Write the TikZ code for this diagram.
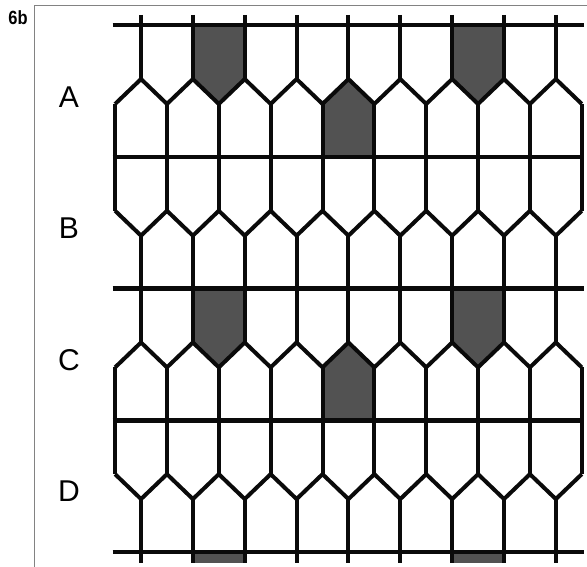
\documentclass[tikz,border=0pt]{standalone}
\usepackage{fontspec}
\setmainfont{Liberation Sans}
\newfontfamily\fignumfont[FakeStretch=0.86]{Liberation Sans}
\usepackage{xcolor}
\usepackage{tikz}
\definecolor{figline}{RGB}{10,10,10}
\definecolor{figshade}{RGB}{82,82,82}
\definecolor{figframe}{RGB}{130,130,130}
\tikzset{
  cw/.style   ={draw=figline, line width=2.2pt},
  rl/.style   ={draw=figline, line width=2.5pt},
  cf/.style   ={fill=figshade},
  frm/.style  ={draw=figframe, line width=0.5pt},
  rowlab/.style ={font=\fontsize{16.5}{18}\selectfont, inner sep=1pt},
  fignum/.style ={font=\fignumfont\bfseries\fontsize{10.5}{12}\selectfont, inner sep=1pt},
}

\begin{document}
\begin{tikzpicture}[scale=1]
  \useasboundingbox (0,0) rectangle (11.321,10.935);
  \draw[frm] (0.656,0) -- (0.656,10.839) -- (11.321,10.839);
  \node[fignum] (fig) at (0.347,10.585) {6b};
  \node[rowlab] (labA) at (1.33,9.06) {A};
  \node[rowlab] (labB) at (1.33,6.53) {B};
  \node[rowlab] (labC) at (1.33,3.99) {C};
  \node[rowlab] (labD) at (1.33,1.46) {D};
  % row A
  \begin{scope}[yshift=10.45cm]
  \fill[cf] (3.72,0) -- (4.72,0) -- (4.72,-1.04) -- (4.22,-1.52) -- (3.72,-1.04) -- cycle;
  \fill[cf] (6.22,-2.54) -- (6.22,-1.52) -- (6.72,-1.04) -- (7.22,-1.52) -- (7.22,-2.54) -- cycle;
  \fill[cf] (8.72,0) -- (9.72,0) -- (9.72,-1.04) -- (9.22,-1.52) -- (8.72,-1.04) -- cycle;
  \draw[rl] (2.17,0) -- (11.27,0);
  \draw[cw] (2.72,0.2) -- (2.72,-1.04);
  \draw[cw] (3.72,0.2) -- (3.72,-1.04);
  \draw[cw] (4.72,0.2) -- (4.72,-1.04);
  \draw[cw] (5.72,0.2) -- (5.72,-1.04);
  \draw[cw] (6.72,0.2) -- (6.72,-1.04);
  \draw[cw] (7.72,0.2) -- (7.72,-1.04);
  \draw[cw] (8.72,0.2) -- (8.72,-1.04);
  \draw[cw] (9.72,0.2) -- (9.72,-1.04);
  \draw[cw] (10.72,0.2) -- (10.72,-1.04);
  \draw[cw] (2.22,-1.52) -- (2.72,-1.04) -- (3.22,-1.52) -- (3.72,-1.04) -- (4.22,-1.52) -- (4.72,-1.04)
    -- (5.22,-1.52) -- (5.72,-1.04) -- (6.22,-1.52) -- (6.72,-1.04) -- (7.22,-1.52) -- (7.72,-1.04)
    -- (8.22,-1.52) -- (8.72,-1.04) -- (9.22,-1.52) -- (9.72,-1.04) -- (10.22,-1.52) -- (10.72,-1.04)
    -- (11.22,-1.52);
  \draw[cw] (2.22,-1.52) -- (2.22,-2.54);
  \draw[cw] (3.22,-1.52) -- (3.22,-2.54);
  \draw[cw] (4.22,-1.52) -- (4.22,-2.54);
  \draw[cw] (5.22,-1.52) -- (5.22,-2.54);
  \draw[cw] (6.22,-1.52) -- (6.22,-2.54);
  \draw[cw] (7.22,-1.52) -- (7.22,-2.54);
  \draw[cw] (8.22,-1.52) -- (8.22,-2.54);
  \draw[cw] (9.22,-1.52) -- (9.22,-2.54);
  \draw[cw] (10.22,-1.52) -- (10.22,-2.54);
  \draw[cw] (11.22,-1.52) -- (11.22,-2.54);
  \end{scope}
  % row B
  \begin{scope}[yshift=7.91cm]
  \draw[rl] (2.17,0) -- (11.27,0);
  \draw[cw] (2.22,0) -- (2.22,-1.04);
  \draw[cw] (3.22,0) -- (3.22,-1.04);
  \draw[cw] (4.22,0) -- (4.22,-1.04);
  \draw[cw] (5.22,0) -- (5.22,-1.04);
  \draw[cw] (6.22,0) -- (6.22,-1.04);
  \draw[cw] (7.22,0) -- (7.22,-1.04);
  \draw[cw] (8.22,0) -- (8.22,-1.04);
  \draw[cw] (9.22,0) -- (9.22,-1.04);
  \draw[cw] (10.22,0) -- (10.22,-1.04);
  \draw[cw] (11.22,0) -- (11.22,-1.04);
  \draw[cw] (2.22,-1.04) -- (2.72,-1.52) -- (3.22,-1.04) -- (3.72,-1.52) -- (4.22,-1.04) -- (4.72,-1.52)
    -- (5.22,-1.04) -- (5.72,-1.52) -- (6.22,-1.04) -- (6.72,-1.52) -- (7.22,-1.04) -- (7.72,-1.52)
    -- (8.22,-1.04) -- (8.72,-1.52) -- (9.22,-1.04) -- (9.72,-1.52) -- (10.22,-1.04) -- (10.72,-1.52)
    -- (11.22,-1.04);
  \draw[cw] (2.72,-1.52) -- (2.72,-2.54);
  \draw[cw] (3.72,-1.52) -- (3.72,-2.54);
  \draw[cw] (4.72,-1.52) -- (4.72,-2.54);
  \draw[cw] (5.72,-1.52) -- (5.72,-2.54);
  \draw[cw] (6.72,-1.52) -- (6.72,-2.54);
  \draw[cw] (7.72,-1.52) -- (7.72,-2.54);
  \draw[cw] (8.72,-1.52) -- (8.72,-2.54);
  \draw[cw] (9.72,-1.52) -- (9.72,-2.54);
  \draw[cw] (10.72,-1.52) -- (10.72,-2.54);
  \end{scope}
  % row C
  \begin{scope}[yshift=5.37cm]
  \fill[cf] (3.72,0) -- (4.72,0) -- (4.72,-1.04) -- (4.22,-1.52) -- (3.72,-1.04) -- cycle;
  \fill[cf] (6.22,-2.54) -- (6.22,-1.52) -- (6.72,-1.04) -- (7.22,-1.52) -- (7.22,-2.54) -- cycle;
  \fill[cf] (8.72,0) -- (9.72,0) -- (9.72,-1.04) -- (9.22,-1.52) -- (8.72,-1.04) -- cycle;
  \draw[rl] (2.17,0) -- (11.27,0);
  \draw[cw] (2.72,0) -- (2.72,-1.04);
  \draw[cw] (3.72,0) -- (3.72,-1.04);
  \draw[cw] (4.72,0) -- (4.72,-1.04);
  \draw[cw] (5.72,0) -- (5.72,-1.04);
  \draw[cw] (6.72,0) -- (6.72,-1.04);
  \draw[cw] (7.72,0) -- (7.72,-1.04);
  \draw[cw] (8.72,0) -- (8.72,-1.04);
  \draw[cw] (9.72,0) -- (9.72,-1.04);
  \draw[cw] (10.72,0) -- (10.72,-1.04);
  \draw[cw] (2.22,-1.52) -- (2.72,-1.04) -- (3.22,-1.52) -- (3.72,-1.04) -- (4.22,-1.52) -- (4.72,-1.04)
    -- (5.22,-1.52) -- (5.72,-1.04) -- (6.22,-1.52) -- (6.72,-1.04) -- (7.22,-1.52) -- (7.72,-1.04)
    -- (8.22,-1.52) -- (8.72,-1.04) -- (9.22,-1.52) -- (9.72,-1.04) -- (10.22,-1.52) -- (10.72,-1.04)
    -- (11.22,-1.52);
  \draw[cw] (2.22,-1.52) -- (2.22,-2.54);
  \draw[cw] (3.22,-1.52) -- (3.22,-2.54);
  \draw[cw] (4.22,-1.52) -- (4.22,-2.54);
  \draw[cw] (5.22,-1.52) -- (5.22,-2.54);
  \draw[cw] (6.22,-1.52) -- (6.22,-2.54);
  \draw[cw] (7.22,-1.52) -- (7.22,-2.54);
  \draw[cw] (8.22,-1.52) -- (8.22,-2.54);
  \draw[cw] (9.22,-1.52) -- (9.22,-2.54);
  \draw[cw] (10.22,-1.52) -- (10.22,-2.54);
  \draw[cw] (11.22,-1.52) -- (11.22,-2.54);
  \end{scope}
  % row D
  \begin{scope}[yshift=2.83cm]
  \fill[cf] (3.72,-2.54) rectangle (4.72,-2.75);
  \fill[cf] (8.72,-2.54) rectangle (9.72,-2.75);
  \draw[rl] (2.17,0) -- (11.27,0);
  \draw[rl] (2.17,-2.54) -- (11.27,-2.54);
  \draw[cw] (2.22,0) -- (2.22,-1.04);
  \draw[cw] (3.22,0) -- (3.22,-1.04);
  \draw[cw] (4.22,0) -- (4.22,-1.04);
  \draw[cw] (5.22,0) -- (5.22,-1.04);
  \draw[cw] (6.22,0) -- (6.22,-1.04);
  \draw[cw] (7.22,0) -- (7.22,-1.04);
  \draw[cw] (8.22,0) -- (8.22,-1.04);
  \draw[cw] (9.22,0) -- (9.22,-1.04);
  \draw[cw] (10.22,0) -- (10.22,-1.04);
  \draw[cw] (11.22,0) -- (11.22,-1.04);
  \draw[cw] (2.22,-1.04) -- (2.72,-1.52) -- (3.22,-1.04) -- (3.72,-1.52) -- (4.22,-1.04) -- (4.72,-1.52)
    -- (5.22,-1.04) -- (5.72,-1.52) -- (6.22,-1.04) -- (6.72,-1.52) -- (7.22,-1.04) -- (7.72,-1.52)
    -- (8.22,-1.04) -- (8.72,-1.52) -- (9.22,-1.04) -- (9.72,-1.52) -- (10.22,-1.04) -- (10.72,-1.52)
    -- (11.22,-1.04);
  \draw[cw] (2.72,-1.52) -- (2.72,-2.75);
  \draw[cw] (3.72,-1.52) -- (3.72,-2.75);
  \draw[cw] (4.72,-1.52) -- (4.72,-2.75);
  \draw[cw] (5.72,-1.52) -- (5.72,-2.75);
  \draw[cw] (6.72,-1.52) -- (6.72,-2.75);
  \draw[cw] (7.72,-1.52) -- (7.72,-2.75);
  \draw[cw] (8.72,-1.52) -- (8.72,-2.75);
  \draw[cw] (9.72,-1.52) -- (9.72,-2.75);
  \draw[cw] (10.72,-1.52) -- (10.72,-2.75);
  \end{scope}
\end{tikzpicture}
\end{document}
